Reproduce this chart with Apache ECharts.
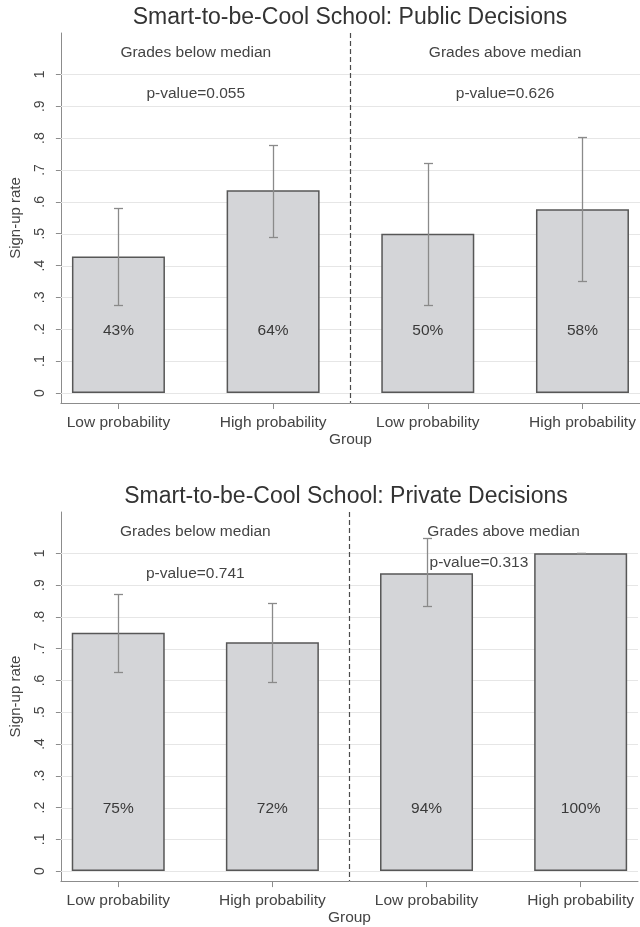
<!DOCTYPE html>
<html>
<head>
<meta charset="utf-8">
<script src="https://cdn.jsdelivr.net/npm/echarts@6/dist/echarts.min.js"></script>
<style>
html,body{margin:0;padding:0;background:#ffffff;}
#chart{width:640px;height:927px;}
</style>
</head>
<body>
<div id="chart"></div>
<script>
// ---------- data ----------
const categories = ['Low probability', 'High probability', 'Low probability', 'High probability'];
const xPositions = [1, 2, 3, 4];

const publicRates = [0.4286, 0.6364, 0.5, 0.5769];
const publicLow   = [0.275, 0.49, 0.275, 0.35];
const publicHigh  = [0.582, 0.78, 0.723, 0.805];

const privateRates = [0.75, 0.72, 0.9375, 1.0];
const privateLow   = [0.625, 0.595, 0.834, 1.0];
const privateHigh  = [0.872, 0.845, 1.047, 1.0];

const yTickValues = [0, 0.1, 0.2, 0.3, 0.4, 0.5, 0.6, 0.7, 0.8, 0.9, 1];
const yTickLabels = ['0', '.1', '.2', '.3', '.4', '.5', '.6', '.7', '.8', '.9', '1'];

const panelTitles = ['Smart-to-be-Cool School: Public Decisions', 'Smart-to-be-Cool School: Private Decisions'];
const groupHeaders = ['Grades below median', 'Grades above median'];
const pValuesPublic = ['p-value=0.055', 'p-value=0.626'];
const pValuesPrivate = ['p-value=0.741', 'p-value=0.313'];
const yAxisTitle = 'Sign-up rate';
const xAxisTitle = 'Group';

// ---------- styling / layout ----------
const FONT = '"Liberation Sans", Arial, Helvetica, sans-serif';
const TXT = '#444444';
const AXIS = '#8c8c8c';

const grids = [
  { left: 58, top: 33, width: 584, height: 370 },
  { left: 54, top: 512, width: 584, height: 370 }
];

const panels = [
  { rates: publicRates, low: publicLow, high: publicHigh,
    notes: [
      { x: 1.5, y: 1.069, text: groupHeaders[0] },
      { x: 3.5, y: 1.069, text: groupHeaders[1] },
      { x: 1.5, y: 0.94, text: pValuesPublic[0] },
      { x: 3.5, y: 0.94, text: pValuesPublic[1] }
    ] },
  { rates: privateRates, low: privateLow, high: privateHigh,
    notes: [
      { x: 1.5, y: 1.069, text: groupHeaders[0] },
      { x: 3.5, y: 1.069, text: groupHeaders[1] },
      { x: 1.5, y: 0.937, text: pValuesPrivate[0] },
      { x: 3.34, y: 0.969, text: pValuesPrivate[1] }
    ] }
];

const xAxes = [], yAxes = [], series = [];

panels.forEach((p, i) => {
  xAxes.push({
    gridIndex: i, type: 'value', min: 0.628, max: 4.372,
    axisLine: { show: true, onZero: false, lineStyle: { color: AXIS, width: 1 } },
    axisTick: { show: true, customValues: xPositions, length: 6, lineStyle: { color: AXIS } },
    axisLabel: { customValues: xPositions, formatter: v => categories[Math.round(v) - 1],
      fontSize: 15.5, lineHeight: 16, color: TXT, fontFamily: FONT, margin: 12 },
    splitLine: { show: false },
    name: xAxisTitle, nameLocation: 'middle', nameGap: 28,
    nameTextStyle: { fontSize: 15.5, lineHeight: 16, color: TXT, fontFamily: FONT }
  });
  yAxes.push({
    gridIndex: i, type: 'value', min: -0.0314, max: 1.13,
    axisLine: { show: true, onZero: false, lineStyle: { color: AXIS, width: 1 } },
    axisTick: { show: true, customValues: yTickValues, length: 5, lineStyle: { color: AXIS } },
    axisLabel: { customValues: yTickValues, rotate: 90,
      formatter: v => yTickLabels[Math.round(v * 10)],
      fontSize: 14, lineHeight: 16, color: TXT, fontFamily: FONT, margin: 13 },
    splitLine: { show: false },
    name: yAxisTitle, nameLocation: 'middle', nameGap: 27,
    nameTextStyle: { fontSize: 15, lineHeight: 16, color: TXT, fontFamily: FONT }
  });

  // grid lines
  series.push({
    type: 'custom', xAxisIndex: i, yAxisIndex: i, z: 1, silent: true,
    data: yTickValues.map(v => [2.5, v]),
    renderItem: (params, api) => {
      const cs = params.coordSys;
      const y = Math.round(api.coord([api.value(0), api.value(1)])[1]) + 0.5;
      return { type: 'line', shape: { x1: cs.x, y1: y, x2: cs.x + cs.width, y2: y },
        style: { stroke: '#e6e6e6', lineWidth: 1 } };
    }
  });
  // divider
  series.push({
    type: 'custom', xAxisIndex: i, yAxisIndex: i, z: 2, silent: true,
    data: [[2.5, 0]],
    renderItem: (params, api) => {
      const cs = params.coordSys;
      const x = Math.round(api.coord([api.value(0), api.value(1)])[0]) + 0.5;
      return { type: 'line', shape: { x1: x, y1: cs.y, x2: x, y2: cs.y + cs.height },
        style: { stroke: '#4a4a4a', lineWidth: 1.2, lineDash: [5, 3] } };
    }
  });
  // bars
  series.push({
    type: 'bar', xAxisIndex: i, yAxisIndex: i, z: 3, silent: true, barWidth: 93,
    data: xPositions.map((x, k) => [x, p.rates[k]]),
    itemStyle: { color: '#d4d5d8', borderColor: '#575757', borderWidth: 1.5 }
  });
  // error bars
  series.push({
    type: 'custom', xAxisIndex: i, yAxisIndex: i, z: 4, silent: true,
    data: xPositions.map((x, k) => [x, p.low[k], p.high[k]]),
    renderItem: (params, api) => {
      const lo = api.coord([api.value(0), api.value(1)]);
      const hi = api.coord([api.value(0), api.value(2)]);
      const x = Math.round(lo[0]) + 0.5;
      const y1 = Math.round(lo[1]) + 0.5, y2 = Math.round(hi[1]) + 0.5;
      const st = { stroke: '#8a8a8a', lineWidth: 1.3 };
      return { type: 'group', children: [
        { type: 'line', shape: { x1: x, y1: y1, x2: x, y2: y2 }, style: st },
        { type: 'line', shape: { x1: x - 4.5, y1: y1, x2: x + 4.5, y2: y1 }, style: st },
        { type: 'line', shape: { x1: x - 4.5, y1: y2, x2: x + 4.5, y2: y2 }, style: st }
      ] };
    }
  });
  // percent labels
  series.push({
    type: 'custom', xAxisIndex: i, yAxisIndex: i, z: 5, silent: true,
    data: xPositions.map((x, k) => [x, p.rates[k]]),
    renderItem: (params, api) => {
      const pt = api.coord([api.value(0), 0.195]);
      return { type: 'text', x: pt[0], y: pt[1],
        style: { text: Math.round(api.value(1) * 100) + '%', fill: '#3a3a3a',
          font: '15.5px ' + FONT, textAlign: 'center', textVerticalAlign: 'middle' } };
    }
  });
  // annotations
  series.push({
    type: 'custom', xAxisIndex: i, yAxisIndex: i, z: 6, silent: true,
    data: p.notes.map(n => [n.x, n.y]),
    renderItem: (params, api) => {
      const pt = api.coord([api.value(0), api.value(1)]);
      return { type: 'text', x: pt[0], y: pt[1],
        style: { text: p.notes[params.dataIndex].text, fill: TXT,
          font: '15.5px ' + FONT, textAlign: 'center', textVerticalAlign: 'middle' } };
    }
  });
});

const chart = echarts.init(document.getElementById('chart'), null, { renderer: 'canvas' });
chart.setOption({
  animation: false,
  backgroundColor: '#ffffff',
  grid: grids,
  xAxis: xAxes,
  yAxis: yAxes,
  series: series,
  graphic: [
    { type: 'text', x: 350, y: 18, silent: true,
      style: { text: panelTitles[0], fill: '#333333', font: '23px ' + FONT, textAlign: 'center', textVerticalAlign: 'middle' } },
    { type: 'text', x: 346, y: 497, silent: true,
      style: { text: panelTitles[1], fill: '#333333', font: '23px ' + FONT, textAlign: 'center', textVerticalAlign: 'middle' } }
  ]
});
</script>
</body>
</html>
